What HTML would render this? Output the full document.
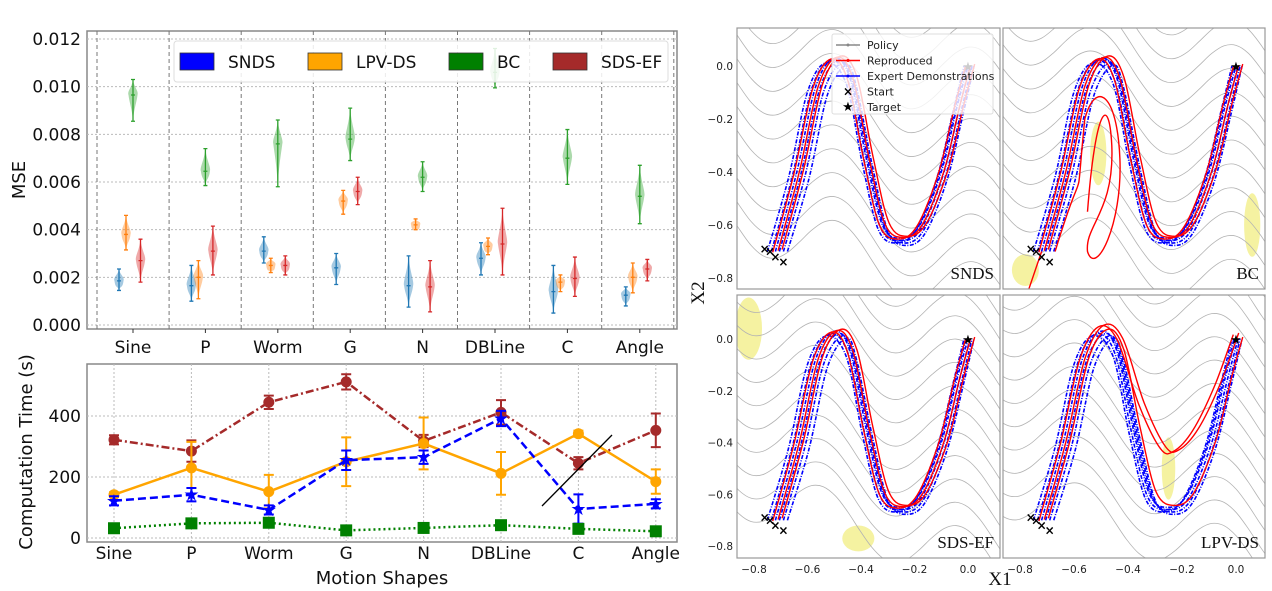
<!DOCTYPE html>
<html><head><meta charset="utf-8">
<style>
html,body{margin:0;padding:0;background:#fff;}
svg{display:block;font-family:"DejaVu Sans","Liberation Sans",sans-serif;}
.serif{font-family:"Liberation Serif","DejaVu Serif",serif;}
</style></head>
<body>
<svg id="fig" width="1272" height="591" viewBox="0 0 1272 591" xmlns="http://www.w3.org/2000/svg">
<g id="mse"></g>
<g id="time"></g>
<g id="stream"></g>
</svg>
<script>
// ---------- MSE violin data (x1e-3) ----------
const categories = ["Sine","P","Worm","G","N","DBLine","C","Angle"];
const methods = ["SNDS","LPV-DS","BC","SDS-EF"];
const sndsMed = [1.85,1.65,3.1,2.4,1.65,2.8,1.4,1.25];
const sndsMin = [1.45,1.0,2.6,1.7,0.75,2.1,0.5,0.8];
const sndsMax = [2.35,2.5,3.7,3.0,2.9,3.45,2.5,1.6];
const lpvMed = [3.8,2.0,2.5,5.2,4.2,3.3,1.8,2.0];
const lpvMin = [3.15,1.1,2.2,4.65,4.0,2.95,1.4,1.35];
const lpvMax = [4.6,2.7,2.8,5.65,4.45,3.65,2.1,2.6];
const bcMed = [9.65,6.45,7.6,7.8,6.2,10.6,7.0,5.4];
const bcMin = [8.55,5.85,5.8,6.9,5.6,9.95,5.9,4.25];
const bcMax = [10.3,7.4,8.6,9.1,6.85,11.6,8.2,6.7];
const sdsMed = [2.7,3.1,2.5,5.6,1.6,3.4,1.95,2.35];
const sdsMin = [1.8,2.1,2.1,5.05,0.55,2.1,1.2,1.85];
const sdsMax = [3.6,4.15,2.9,6.2,2.7,4.9,2.85,2.75];
const mseTicks = ["0.000","0.002","0.004","0.006","0.008","0.010","0.012"];
// ---------- Computation time data ----------
const sdsTime = [322,285,445,512,318,412,245,353];
const sdsErr  = [15,35,22,25,20,40,20,55];
const lpvTime = [142,230,152,250,310,212,342,185];
const lpvErr  = [8,85,55,80,85,70,10,40];
const sndsTime = [122,142,92,255,265,392,95,112];
const sndsErr  = [15,22,15,32,22,25,48,15];
const bcTime = [32,48,50,25,33,42,30,22];
const bcErr  = [5,5,5,4,4,5,4,4];
const timeTicks = [0,200,400];

const NS="http://www.w3.org/2000/svg";
function mk(parent,tag,attrs,name,inter){
  const e=document.createElementNS(NS,tag);
  for(const k in attrs)e.setAttribute(k,attrs[k]);
  
  
  parent.appendChild(e);return e;
}
// ===== MSE chart =====
(function(){
  const g=document.getElementById('mse');
  const L=87,R=677,T=31,B=329;
  const yS=v=>325-(v/12)*286;
  const xC=i=>133+i*72.4;
  mk(g,'rect',{x:L,y:T,width:R-L,height:B-T,fill:'#fff',stroke:'#888','stroke-width':1.5},'mse-plot-area',false);
  for(let i=0;i<mseTicks.length;i++){
    const y=yS(i*2);
    mk(g,'line',{x1:L,x2:R,y1:y,y2:y,stroke:'#bbb','stroke-dasharray':'2,2','stroke-width':1},'mse-gridline',false);
    const t=mk(g,'text',{x:L-6,y:y+6,'text-anchor':'end','font-size':17,fill:'#111'},'mse-tick-label',false);t.textContent=mseTicks[i];
  }
  for(let i=0;i<=8;i++){
    const x=97+i*72.1;
    if(x<R) mk(g,'line',{x1:x,x2:x,y1:T,y2:B,stroke:'#777','stroke-dasharray':'4,3','stroke-width':1},'mse-category-divider',false);
  }
  const sets=[[sndsMed,sndsMin,sndsMax,'#1f77b4',-14],[lpvMed,lpvMin,lpvMax,'#ff7f0e',-7],[bcMed,bcMin,bcMax,'#2ca02c',0],[sdsMed,sdsMin,sdsMax,'#d62728',7.5]];
  sets.forEach((s,si)=>{
    for(let i=0;i<8;i++){
      const x=xC(i)+s[4],ym=yS(s[0][i]),y0=yS(s[1][i]),y1=yS(s[2][i]);
      const hw=4.5;
      mk(g,'path',{d:`M${x},${y1} C${x+1},${(y1+ym)/2} ${x+hw*1.3},${ym-4} ${x+hw},${ym} C${x+hw*0.8},${ym+8} ${x+1},${(ym+y0)/2} ${x},${y0} C${x-1},${(ym+y0)/2} ${x-hw*0.8},${ym+8} ${x-hw},${ym} C${x-hw*1.3},${ym-4} ${x-1},${(y1+ym)/2} ${x},${y1}Z`,fill:s[3],'fill-opacity':0.4,stroke:'none'},'violin-'+methods[si].toLowerCase(),false);
      mk(g,'path',{d:`M${x},${y0}V${y1}M${x-2},${y0}h4M${x-2},${y1}h4M${x-2},${ym}h4`,stroke:s[3],'stroke-width':1.3,fill:'none'},'violin-whisker',false);
    }
  });
  categories.forEach((c,i)=>{
    mk(g,'line',{x1:xC(i),x2:xC(i),y1:B,y2:B+4,stroke:'#333'},'mse-x-tick',false);
    const t=mk(g,'text',{x:xC(i),y:B+24,'text-anchor':'middle','font-size':17,fill:'#111'},'mse-x-label',false);t.textContent=c;
  });
  const yl=mk(g,'text',{x:0,y:0,'font-size':18,'text-anchor':'middle',transform:'translate(25,180) rotate(-90)',fill:'#111'},'mse-y-axis-title',false);yl.textContent='MSE';
  const lg=mk(g,'g',{},'mse-legend',false);
  mk(lg,'rect',{x:174,y:41,width:494,height:41,rx:3,fill:'#fff','fill-opacity':0.85,stroke:'#ddd'},'legend-frame',false);
  const lc=['#0000ff','#ffa500','#008000','#a52a2a'],lx=[180,308,449,553];
  methods.forEach((m,i)=>{
    mk(lg,'rect',{x:lx[i],y:53,width:34,height:17,fill:lc[i],stroke:'#333','stroke-width':0.8},'legend-swatch',false);
    const t=mk(lg,'text',{x:lx[i]+48,y:68,'font-size':17,fill:'#111'},'legend-entry',false);t.textContent=m;
  });
})();
// ===== Time chart =====
(function(){
  const g=document.getElementById('time');
  const L=87,R=677,T=364,B=542;
  const yS=v=>538-v*0.305;
  const xP=i=>114+i*77.4;
  mk(g,'rect',{x:L,y:T,width:R-L,height:B-T,fill:'#fff',stroke:'#888','stroke-width':1.5},'time-plot-area',false);
  timeTicks.forEach(v=>{
    const y=yS(v);
    mk(g,'line',{x1:L,x2:R,y1:y,y2:y,stroke:'#bbb','stroke-dasharray':'2,2'},'time-gridline',false);
    const t=mk(g,'text',{x:L-6,y:y+6,'text-anchor':'end','font-size':17,fill:'#111'},'time-tick-label',false);t.textContent=v;
  });
  categories.forEach((c,i)=>{
    mk(g,'line',{x1:xP(i),x2:xP(i),y1:T,y2:B,stroke:'#bbb','stroke-dasharray':'2,2'},'time-x-gridline',false);
    const t=mk(g,'text',{x:xP(i),y:B+17,'text-anchor':'middle','font-size':17,fill:'#111'},'time-x-label',false);t.textContent=c;
  });
  const series=[[sdsTime,sdsErr,'#a52a2a','8,3,2,3','circle','sds-ef'],[lpvTime,lpvErr,'#ffa500','','circle','lpv-ds'],[sndsTime,sndsErr,'#0000ff','8,4','star','snds'],[bcTime,bcErr,'#008000','2,3','square','bc']];
  series.forEach(s=>{
    const pts=s[0].map((v,i)=>xP(i)+','+yS(v)).join(' ');
    mk(g,'polyline',{points:pts,fill:'none',stroke:s[2],'stroke-width':2.5,'stroke-dasharray':s[3]},'line-'+s[5],false);
    s[0].forEach((v,i)=>{
      const x=xP(i),y0=yS(v-s[1][i]),y1=yS(v+s[1][i]);
      mk(g,'path',{d:`M${x},${y0}V${y1}M${x-5},${y0}h10M${x-5},${y1}h10`,stroke:s[2],'stroke-width':2,fill:'none'},'errorbar-'+s[5],false);
      const y=yS(v);
      if(s[4]==='square') mk(g,'rect',{x:x-6,y:y-6,width:12,height:12,fill:s[2]},'point-'+s[5],false);
      else if(s[4]==='star') mk(g,'text',{x:x,y:y+6,'text-anchor':'middle','font-size':18,fill:s[2]},'point-'+s[5],false).textContent='★';
      else mk(g,'circle',{cx:x,cy:y,r:5.5,fill:s[2]},'point-'+s[5],false);
    });
  });
  mk(g,'line',{x1:542,y1:506,x2:612,y2:435,stroke:'#000','stroke-width':1.3},'annotation-slash',false);
  const yl=mk(g,'text',{x:0,y:0,'font-size':18,'text-anchor':'middle',transform:'translate(32,452) rotate(-90)',fill:'#111'},'time-y-axis-title',false);yl.textContent='Computation Time (s)';
  const xl=mk(g,'text',{x:382,y:584,'font-size':18,'text-anchor':'middle',fill:'#111'},'time-x-axis-title',false);xl.textContent='Motion Shapes';
})();
// ===== Stream plots =====
const panelNames=["SNDS","BC","SDS-EF","LPV-DS"];
const demoPath=[[-0.72,-0.7],[-0.64,-0.4],[-0.57,-0.08],[-0.5,0.03],[-0.44,-0.05],[-0.38,-0.35],[-0.32,-0.6],[-0.25,-0.65],[-0.18,-0.6],[-0.1,-0.4],[-0.04,-0.15],[0,0]];
const lpvDip=[[-0.72,-0.7],[-0.64,-0.4],[-0.57,-0.08],[-0.5,0.05],[-0.43,0],[-0.35,-0.25],[-0.27,-0.42],[-0.22,-0.43],[-0.15,-0.35],[-0.07,-0.18],[0,0.02]];
(function(){
  const g=document.getElementById('stream');
  const panels=[{x:737,y:28,w:263,h:261,x0:968,sx:267.5,y0:66,sy:265},
                {x:1003,y:28,w:262,h:261,x0:1236,sx:270,y0:66,sy:265},
                {x:737,y:295,w:263,h:263,x0:968,sx:267.5,y0:339,sy:259},
                {x:1003,y:295,w:262,h:263,x0:1236,sx:270,y0:339,sy:259}];
  function smooth(pts){let d=`M${pts[0][0]},${pts[0][1]}`;for(let i=0;i<pts.length-1;i++){const p0=pts[Math.max(0,i-1)],p1=pts[i],p2=pts[i+1],p3=pts[Math.min(pts.length-1,i+2)];d+=` C${p1[0]+(p2[0]-p0[0])/6},${p1[1]+(p2[1]-p0[1])/6} ${p2[0]-(p3[0]-p1[0])/6},${p2[1]-(p3[1]-p1[1])/6} ${p2[0]},${p2[1]}`;}return d;}
  panels.forEach((p,pi)=>{
    const pg=mk(g,'g',{},'stream-panel-'+panelNames[pi].toLowerCase(),false);
    const cid='clip'+pi;
    const cp=mk(pg,'clipPath',{id:cid},'clip',false);
    mk(cp,'rect',{x:p.x,y:p.y,width:p.w,height:p.h},'clip-rect',false);
    const X=v=>p.x0+v*p.sx,Y=v=>p.y0-v*p.sy;
    mk(pg,'rect',{x:p.x,y:p.y,width:p.w,height:p.h,fill:'#fff'},'panel-bg',false);
    const cg=mk(pg,'g',{'clip-path':`url(#${cid})`},'panel-content',false);
    const blobs=[[],[[-0.51,-0.33,0.03,0.12],[0.06,-0.6,0.03,0.12],[-0.78,-0.77,0.05,0.06]],[[-0.82,0.04,0.05,0.12],[-0.41,-0.77,0.06,0.05]],[[-0.25,-0.5,0.025,0.12]]][pi];
    blobs.forEach(b=>mk(cg,'ellipse',{cx:X(b[0]),cy:Y(b[1]),rx:b[2]*p.sx,ry:b[3]*p.sy,fill:'#f3ef8a','fill-opacity':0.8},'unstable-region',false));
    for(let k=-6;k<12;k++){
      const pts=[];
      for(let t=0;t<=24;t++){const xv=-0.9+t*0.045;const yv=0.15-k*0.09+0.18*Math.sin((xv+0.62+pi*0.03)*Math.PI/0.26)*0.6-0.3*xv;pts.push([X(xv),Y(yv)]);}
      mk(cg,'path',{d:smooth(pts),fill:'none',stroke:'#b3b3b3','stroke-width':0.8},'policy-streamline',false);
    }
    const offs=[-0.03,-0.015,0,0.015,0.03,0.045];
    offs.forEach(o=>{
      const pts=demoPath.map((q,i)=>[X(q[0]+o*(i<4?1:0.5)),Y(q[1]-Math.abs(o)*0.6*(i>0&&i<11?1:0))]);
      mk(cg,'path',{d:smooth(pts),fill:'none',stroke:'#0000ff','stroke-width':1.6,'stroke-dasharray':'4,1.5,1,1.5'},'expert-demonstration',false);
    });
    [-0.01,0.01,0.025].forEach((o,j)=>{
      const base=pi===3&&j<2?lpvDip:demoPath;
      const pts=base.map(q=>[X(q[0]+o),Y(q[1]+o*0.3)]);
      mk(cg,'path',{d:smooth(pts),fill:'none',stroke:'#ff0000','stroke-width':1.4},'reproduced-trajectory',false);
    });
    if(pi===1){
      mk(cg,'path',{d:`M${X(-0.67)},${Y(-0.7)} C${X(-0.55)},${Y(-0.3)} ${X(-0.6)},${Y(-0.6)} ${X(-0.56)},${Y(-0.2)} C${X(-0.52)},${Y(-0.05)} ${X(-0.44)},${Y(-0.1)} ${X(-0.43)},${Y(-0.35)} C${X(-0.42)},${Y(-0.6)} ${X(-0.52)},${Y(-0.8)} ${X(-0.55)},${Y(-0.7)} C${X(-0.56)},${Y(-0.6)} ${X(-0.45)},${Y(-0.55)} ${X(-0.46)},${Y(-0.3)} C${X(-0.47)},${Y(-0.1)} ${X(-0.52)},${Y(-0.15)} ${X(-0.55)},${Y(-0.55)}`,fill:'none',stroke:'#ff0000','stroke-width':1.4},'reproduced-loop',false);
      mk(cg,'line',{x1:X(-0.72),y1:Y(-0.7),x2:X(-0.77),y2:Y(-0.85),stroke:'#ff0000','stroke-width':1.4},'reproduced-escape',false);
    }
    [[-0.76,-0.69],[-0.74,-0.7],[-0.72,-0.72],[-0.69,-0.74]].forEach(s=>{
      mk(cg,'text',{x:X(s[0]),y:Y(s[1])+4,'text-anchor':'middle','font-size':12,'font-weight':'bold',fill:'#000'},'start-marker',false).textContent='×';
    });
    mk(cg,'text',{x:X(0),y:Y(0)+5,'text-anchor':'middle','font-size':13,fill:'#000'},'target-marker',false).textContent='★';
    mk(pg,'rect',{x:p.x,y:p.y,width:p.w,height:p.h,fill:'none',stroke:'#999','stroke-width':1.2},'panel-frame',false);
    const lab=mk(pg,'text',{x:p.x+p.w-6,y:p.y+p.h-10,'text-anchor':'end','font-size':17,fill:'#111',class:'serif'},'panel-label',false);lab.textContent=panelNames[pi];
    if(pi%2===0){
      [0,-0.2,-0.4,-0.6,-0.8].forEach(v=>{const t=mk(pg,'text',{x:p.x-4,y:Y(v)+4,'text-anchor':'end','font-size':10.5,fill:'#222'},'y-tick-label',false);t.textContent=v===0?'0.0':'−'+Math.abs(v).toFixed(1);});
    }
    if(pi>=2){
      [-0.8,-0.6,-0.4,-0.2,0].forEach(v=>{const t=mk(pg,'text',{x:X(v),y:p.y+p.h+15,'text-anchor':'middle','font-size':10.5,fill:'#222'},'x-tick-label',false);t.textContent=v===0?'0.0':'−'+Math.abs(v).toFixed(1);});
    }
  });
  const lg=mk(g,'g',{},'stream-legend',false);
  mk(lg,'rect',{x:832,y:34,width:161,height:80,rx:2,fill:'#fff','fill-opacity':0.8,stroke:'#ddd'},'legend-frame',false);
  const items=[['Policy','#888'],['Reproduced','#ff0000'],['Expert Demonstrations','#0000ff'],['Start',null],['Target',null]];
  items.forEach((it,i)=>{
    const y=45+i*15.5;
    if(it[1]){mk(lg,'line',{x1:836,x2:860,y1:y,y2:y,stroke:it[1],'stroke-width':1.5},'legend-line',false);mk(lg,'circle',{cx:848,cy:y,r:1.5,fill:it[1]},'legend-dot',false);}
    else mk(lg,'text',{x:848,y:y+4,'text-anchor':'middle','font-size':i===4?13:12,'font-weight':'bold'},'legend-marker',false).textContent=i===4?'★':'×';
    const t=mk(lg,'text',{x:867,y:y+4,'font-size':11,fill:'#222'},'legend-entry',false);t.textContent=it[0];
  });
  const x1=mk(g,'text',{x:1000,y:585,'text-anchor':'middle','font-size':19,class:'serif',fill:'#111'},'x-axis-title',false);x1.textContent='X1';
  const x2=mk(g,'text',{x:0,y:0,'text-anchor':'middle','font-size':19,class:'serif',transform:'translate(704,293) rotate(-90)',fill:'#111'},'y-axis-title',false);x2.textContent='X2';
})();
</script>
</body></html>
